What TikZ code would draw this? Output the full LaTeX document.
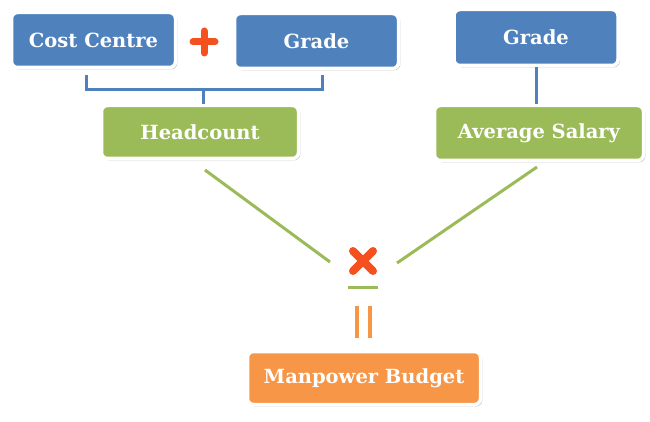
\documentclass[tikz,border=0pt]{standalone}
\usepackage{fontspec}
\setmainfont{DejaVu Serif}
\usetikzlibrary{shadows}
\definecolor{cblue}{HTML}{4F81BD}
\definecolor{cgreen}{HTML}{9BBB59}
\definecolor{corange}{HTML}{F79646}
\definecolor{cred}{HTML}{F4511E}
\tikzset{
  box/.style={rounded corners=6pt, draw=white, line width=3.5pt, inner sep=0pt,
    text=white, font=\bfseries\fontsize{19.5}{22}\selectfont,
    drop shadow={shadow xshift=1.8pt, shadow yshift=-1.8pt, opacity=0.4, fill=black!55}},
  bluebox/.style={box, fill=cblue},
  greenbox/.style={box, fill=cgreen},
  orangebox/.style={box, fill=corange},
  blueline/.style={draw=cblue, line width=3pt},
  greenline/.style={draw=cgreen, line width=3pt},
}
\begin{document}
\begin{tikzpicture}[x=1pt, y=-1pt]
\useasboundingbox (0,0) rectangle (650,422);
\node[bluebox, minimum width=164pt, minimum height=55pt] (cc) at (93.5,40) {Cost Centre};
\node[bluebox, minimum width=164pt, minimum height=55pt] (gl) at (316.5,41) {Grade};
\node[bluebox, minimum width=164pt, minimum height=56pt] (gr) at (536,37.5) {Grade};
\node[greenbox, minimum width=197pt, minimum height=53pt] (hc) at (200,132) {Headcount};
\node[greenbox, minimum width=209pt, minimum height=55pt] (as) at (539,133) {Average Salary};
\node[orangebox, minimum width=233pt, minimum height=53pt] (mb) at (364,378) {Manpower Budget};
% plus sign
\node[inner sep=0pt] (plus) at (204,42) {};
\draw[cred, line width=7pt, line cap=round] ([xshift=-11pt]plus.center) -- ([xshift=11pt]plus.center);
\draw[cred, line width=7pt, line cap=round] ([yshift=-11pt]plus.center) -- ([yshift=11pt]plus.center);
% bracket
\coordinate (bl) at (86,75);
\coordinate (br) at (322,75);
\coordinate (bm) at (203,90);
\draw[blueline] (bl) |- (bm) -| (br);
\draw[blueline] (bm) -- (bm |- hc.north);
% grade to average salary
\draw[blueline] (gr.south) -- (gr.south |- as.north);
% times sign
\node[inner sep=0pt] (times) at (363,261) {};
\draw[greenline] (205,170) -- (330,262);
\draw[greenline] (537,167) -- (397,263);
\draw[cred, line width=8pt, line cap=round] ([shift={(-10pt,-10pt)}]times.center) -- ([shift={(10pt,10pt)}]times.center);
\draw[cred, line width=8pt, line cap=round] ([shift={(-10pt,10pt)}]times.center) -- ([shift={(10pt,-10pt)}]times.center);
% equals (vertical)
\coordinate (eqline) at (363,287);
\draw[greenline] ([xshift=-15pt]eqline) -- ([xshift=15pt]eqline);
\draw[corange, line width=3.5pt] (357,306) -- (357,338);
\draw[corange, line width=3.5pt] (370,306) -- (370,338);
\end{tikzpicture}
\end{document}
